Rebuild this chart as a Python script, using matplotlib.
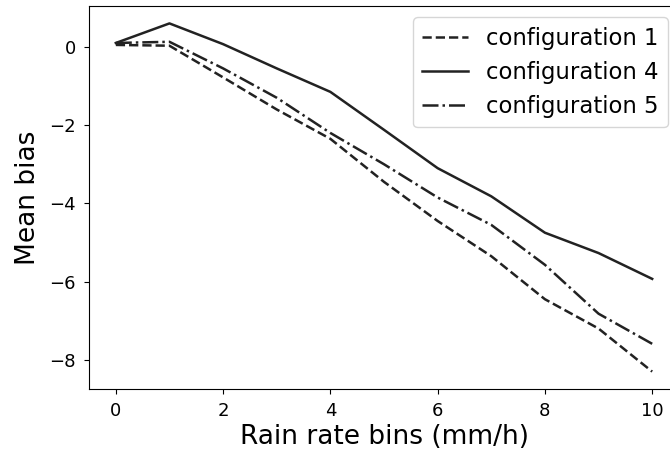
import matplotlib
matplotlib.use("Agg")
import matplotlib.pyplot as plt

bins = [0, 1, 2, 3, 4, 5, 6, 7, 8, 9, 10]
config1 = [0.05, 0.03, -0.78, -1.6, -2.35, -3.45, -4.45, -5.35, -6.45, -7.2, -8.3]
config4 = [0.1, 0.6, 0.07, -0.55, -1.15, -2.12, -3.1, -3.82, -4.75, -5.27, -5.93]
config5 = [0.1, 0.13, -0.55, -1.3, -2.2, -3.0, -3.85, -4.55, -5.57, -6.82, -7.59]
labels = ["configuration 1", "configuration 4", "configuration 5"]

fig = plt.figure(figsize=(6.7, 4.54), dpi=100)
ax = fig.add_axes([89/670, 65/454, 590/670, 383/454])
col = "#222222"
ax.plot(bins, config1, linestyle="--", color=col, lw=1.8, label=labels[0])
ax.plot(bins, config4, linestyle="-", color=col, lw=1.8, label=labels[1])
ax.plot(bins, config5, linestyle="-.", color=col, lw=1.8, label=labels[2])
ax.set_xticks([0, 2, 4, 6, 8, 10])
ax.set_yticks([0, -2, -4, -6, -8])
ax.tick_params(labelsize=13, pad=6)
ax.set_xlabel("Rain rate bins (mm/h)", fontsize=19, labelpad=3)
ax.set_ylabel("Mean bias", fontsize=19, labelpad=6)
ax.legend(fontsize=16.4, loc="upper right")
fig.savefig("out.png", dpi=100)
